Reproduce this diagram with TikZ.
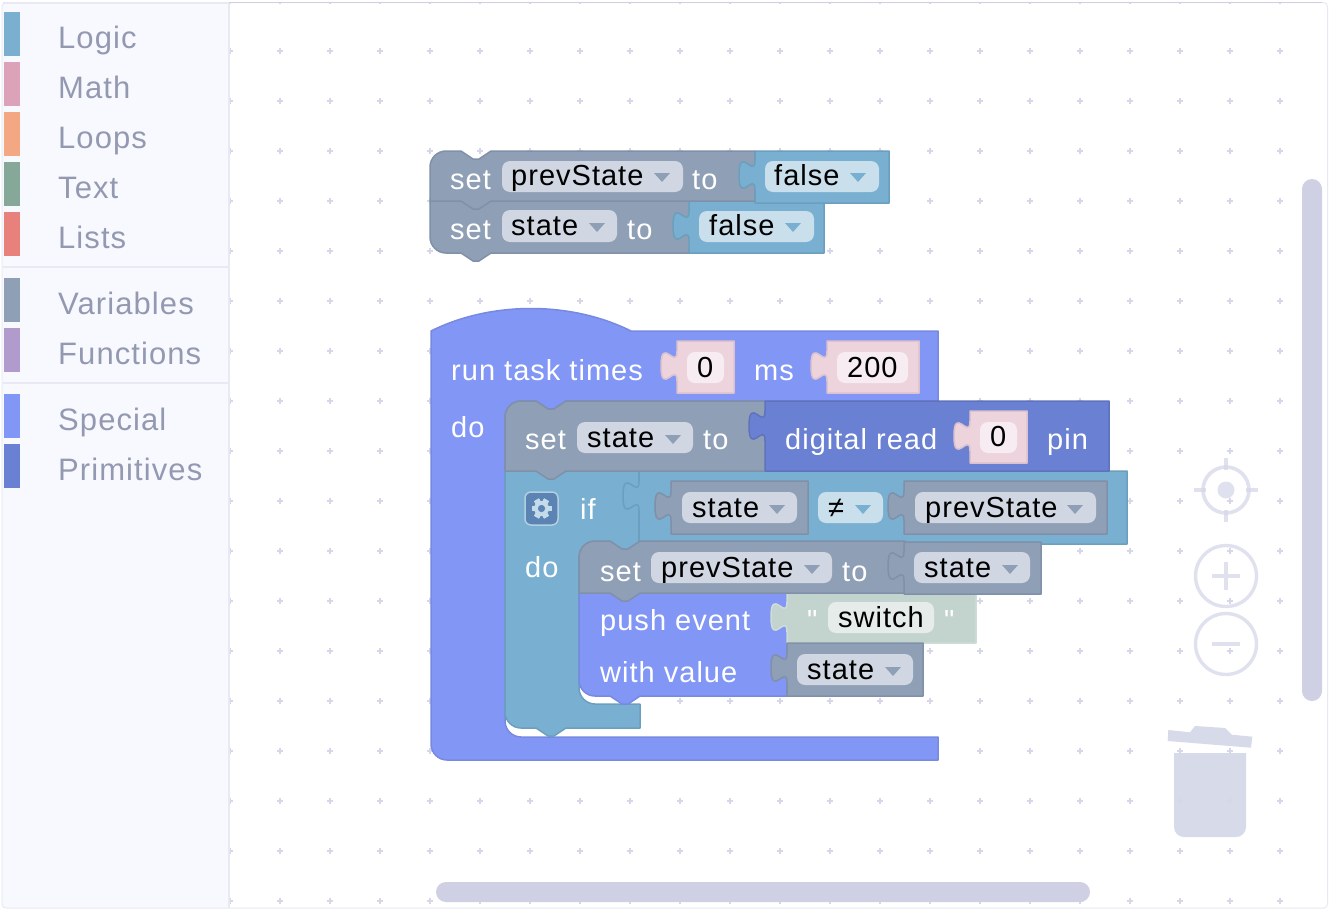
\documentclass[tikz,border=0pt]{standalone}
\usepackage{fontspec}
\setmainfont{Liberation Sans}[LetterSpace=3.5]
\newfontfamily\plainq{Liberation Sans}
\definecolor{cvar}{HTML}{8F9FB5}\definecolor{cvarS}{HTML}{7F90A8}\definecolor{cvarF}{HTML}{D0D7E2}
\definecolor{clog}{HTML}{79AFD0}\definecolor{clogS}{HTML}{6A9FBE}\definecolor{clogF}{HTML}{C9E0EC}
\definecolor{cspe}{HTML}{8196F5}\definecolor{cspeS}{HTML}{7789E0}
\definecolor{cpri}{HTML}{6A80D2}\definecolor{cpriS}{HTML}{5F72BC}
\definecolor{cmat}{HTML}{EDD3DC}\definecolor{cmatS}{HTML}{DCC2CE}\definecolor{cmatF}{HTML}{F6ECF1}
\definecolor{ctxt}{HTML}{C3D3CD}\definecolor{ctxtS}{HTML}{CFDDD8}\definecolor{ctxtF}{HTML}{E5ECEA}
\definecolor{cside}{HTML}{F8F9FE}\definecolor{cline}{HTML}{E8E9F3}\definecolor{clab}{HTML}{9499B2}
\definecolor{cbar}{HTML}{CFD0E3}\definecolor{cicon}{HTML}{D3D7E8}\definecolor{cdot}{HTML}{D6D7E8}
\definecolor{sLogic}{HTML}{7AAFD0}\definecolor{sMath}{HTML}{DCA2B8}\definecolor{sLoops}{HTML}{F3A883}
\definecolor{sText}{HTML}{85A898}\definecolor{sLists}{HTML}{E8807C}\definecolor{sVars}{HTML}{8F9FB5}
\definecolor{sFuncs}{HTML}{B09BCC}\definecolor{sSpec}{HTML}{8196F5}\definecolor{sPrim}{HTML}{6A80D2}
\definecolor{gearbg}{HTML}{5B84B4}\definecolor{gearfg}{HTML}{C4DBE9}\definecolor{gearln}{HTML}{B0D0E0}
\newcount\tc
\def\tabd#1#2{-- (#1,#2) .. controls (#1,#2+20) and (#1-16,#2-16) .. (#1-16,#2+15) .. controls (#1-16,#2+46) and (#1,#2+10) .. (#1,#2+30)}
\def\notchl#1#2{-- (#1,#2) -- (#1+12,#2+8) -- (#1+18,#2+8) -- (#1+30,#2)}
\def\notchr#1#2{-- (#1+30,#2) -- (#1+18,#2+8) -- (#1+12,#2+8) -- (#1,#2)}
\def\cor#1#2#3#4#5#6{-- (#1,#2) .. controls (#1*.45+#3*.55,#2*.45+#4*.55) and (#5*.45+#3*.55,#6*.45+#4*.55) .. (#5,#6)}
\def\W#1#2#3{\global\advance\tc by 1 \node[wlabel] (t\the\tc) at (#1,#2) {#3};}
\def\K#1#2#3{\global\advance\tc by 1 \node[klabel] (t\the\tc) at (#1,#2) {#3};}
\def\L#1#2#3{\global\advance\tc by 1 \node[slabel] (t\the\tc) at (#1,#2) {#3};}
\def\field#1#2#3#4#5{\fill[#5,rounded corners=8pt] (#1,#2) rectangle (#3,#4);}
\def\tri#1#2#3{\fill[#3] (#1,#2) -- (#1+16,#2) -- (#1+8,#2+9) -- cycle;}
\def\val#1#2#3#4#5#6#7{\draw[fill=#5,draw=#6,blockline] (#1,#2) \tabd{#1}{#7} -- (#1,#4) -- (#3,#4) -- (#3,#2) -- cycle;}
\def\swatch#1#2{\fill[#2] (4,#1) rectangle (20,#1+44);}
\tikzset{
 wlabel/.style={anchor=base west,inner sep=0pt,yshift=-.7pt,text=white,font=\fontsize{29}{31}\selectfont},
 klabel/.style={anchor=base west,inner sep=0pt,text=black,font=\fontsize{29}{31}\selectfont},
 slabel/.style={anchor=base west,inner sep=0pt,yshift=-.7pt,text=clab,font=\fontsize{31}{33}\selectfont},
 blockline/.style={line width=1.5pt,line join=round}
}
\begin{document}
\begin{tikzpicture}[x=1pt,y=-1pt]
\useasboundingbox (0,0) rectangle (1330,910);
\fill[white] (0,0) rectangle (1330,910);
% grid
\begin{scope}
\clip (229,3) rectangle (1327,908);
\foreach \gx in {230,280,...,1280}
 \foreach \gy in {0.7,50.7,100.7,150.7,200.7,250.7,300.7,350.7,400.7,450.7,500.7,550.7,600.7,650.7,700.7,750.7,800.7,850.7,900.7}{
  \draw[cdot,line width=1.6pt] (\gx-3,\gy) -- (\gx+3,\gy) (\gx,\gy-3) -- (\gx,\gy+3);
 }
\end{scope}
% scrollbars
\fill[cbar,rounded corners=10pt] (1302,179) rectangle (1322,701);
\fill[cbar,rounded corners=10pt] (436,882) rectangle (1090,902);
% controls
\begin{scope}[opacity=.72]
\draw[cicon,line width=3.6pt] (1226,490) circle[radius=23pt];
\fill[cicon] (1226,490) circle[radius=8.5pt];
\draw[cicon,line width=3.6pt] (1226,458) -- (1226,470) (1226,510) -- (1226,522) (1194,490) -- (1206,490) (1246,490) -- (1258,490);
\draw[cicon,line width=3.4pt] (1226,576) circle[radius=30.5pt];
\draw[cicon,line width=3.6pt] (1212,576) -- (1240,576) (1226,562) -- (1226,590);
\draw[cicon,line width=3.4pt] (1226,644) circle[radius=30.5pt];
\draw[cicon,line width=3.6pt] (1212,644) -- (1240,644);
\end{scope}
\begin{scope}[opacity=.92]
\fill[cicon] (1168.3,730) -- (1190,732.3) -- (1195,726) -- (1225,728) -- (1231.7,734.7) -- (1252.3,736.7) -- (1251,747.7) -- (1167.7,741) -- cycle;
\fill[cicon] (1174,753) -- (1246,753) \cor{1246}{827}{1246}{837}{1236}{837} \cor{1184}{837}{1174}{837}{1174}{827} -- cycle;
\end{scope}
% sidebar
\fill[cside] (3,3) rectangle (228,908);
\draw[cline,line width=2pt] (228.5,3) -- (228.5,908);
\draw[cline,line width=2pt] (3,3) -- (228,3);
\draw[cline,line width=2pt] (3,267) -- (228,267) (3,383) -- (228,383);
\swatch{12}{sLogic}\swatch{62}{sMath}\swatch{112}{sLoops}\swatch{162}{sText}\swatch{212}{sLists}
\swatch{278}{sVars}\swatch{328}{sFuncs}\swatch{394}{sSpec}\swatch{444}{sPrim}
\L{58}{48}{Logic}\L{58}{98}{Math}\L{58}{148}{Loops}\L{58}{198}{Text}\L{58}{248}{Lists}
\L{58}{313.5}{Variables}\L{58}{363.5}{Functions}\L{58}{429.5}{Special}\L{58}{479.5}{Primitives}
% frame
\draw[cline,line width=1pt,rounded corners=4pt] (2,2.5) rectangle (1327.5,908);
\draw[cbar,line width=.8pt] (229,2.5) -- (1322,2.5);
% --- first stack: set state
\draw[fill=cvar,draw=cvarS,blockline] (430,201) -- (690,201) -- (690,253) \notchr{461}{253} \cor{446}{253}{430}{253}{430}{237} -- cycle;
\val{689}{201}{824}{253}{clog}{clogS}{211}
\field{699}{211}{814}{242}{clogF}
\K{709}{235}{false}\tri{785}{223}{clog}
\W{450}{239}{set}\field{502}{210}{617}{242}{cvarF}\K{511}{235}{state}\tri{589}{223}{cvar}\W{627}{239}{to}
% set prevState
\draw[fill=cvar,draw=cvarS,blockline] (430,167) \cor{430}{167}{430}{151}{446}{151} \notchl{461}{151} -- (755,151) -- (755,201) \notchr{461}{201} -- (430,201) -- cycle;
\val{755}{151}{889}{203}{clog}{clogS}{160}
\field{765}{161}{879}{192}{clogF}
\K{774}{185}{false}\tri{850}{173}{clog}
\W{450}{189}{set}\field{502}{161}{683}{192}{cvarF}\K{511}{185}{prevState}\tri{654}{173}{cvar}\W{692}{189}{to}
% --- run task
\draw[fill=cspe,draw=cspeS,blockline] (431,331) .. controls (491,301) and (571,301) .. (631,331) -- (938,331) -- (938,401) \notchr{536}{401} -- (521,401) \cor{521}{401}{505}{401}{505}{417} \cor{505}{721}{505}{737}{521}{737} -- (938,737) -- (938,760) \cor{447}{760}{431}{760}{431}{744} -- cycle;
\W{451}{379.5}{run task times}\W{754}{379.5}{ms}\W{451}{436.5}{do}
\val{677}{341}{734}{393}{cmat}{cmatS}{351}
\field{687}{352}{724}{383}{cmatF}
\K{697}{377}{0}
\val{827}{341}{919}{393}{cmat}{cmatS}{351}
\field{837}{352}{908}{383}{cmatF}
\K{847}{377}{200}
% if block
\draw[fill=clog,draw=clogS,blockline] (505,471) -- (639,471) -- (639,543) \notchr{610}{543} -- (595,543) \cor{595}{543}{579}{543}{579}{559} \cor{579}{688}{579}{704}{595}{704} -- (640,704) -- (640,728) \notchr{536}{728} \cor{521}{728}{505}{728}{505}{712} -- cycle;
\W{580}{519}{if}\W{525}{576.5}{do}
\draw[fill=gearbg,draw=gearln,line width=1.5pt,rounded corners=6pt] (525,492) rectangle (558,525);
\begin{scope}[shift={(541.5,508.5)}]
\foreach \ang in {30,90,150,210,270,330}{\fill[gearfg,rotate=\ang] (-2.8,-10) rectangle (2.8,10);}
\fill[gearfg] (0,0) circle[radius=7.5pt];
\fill[gearbg] (0,0) circle[radius=3.6pt];
\end{scope}
% comparison
\val{639}{471}{1127}{544}{clog}{clogS}{481}
\val{671}{481}{808}{534}{cvar}{cvarS}{491}
\field{682}{492}{797}{523}{cvarF}\K{692}{517}{state}\tri{769}{505}{cvar}
\field{818}{492}{883}{523}{clogF}\K{828}{517}{≠}\tri{855}{505}{clog}
\val{904}{481}{1107}{534}{cvar}{cvarS}{491}
\field{915}{492}{1096}{523}{cvarF}\K{925}{517}{prevState}\tri{1067}{505}{cvar}
% push event
\draw[fill=cspe,draw=cspeS,blockline] (579,593) -- (787,593) -- (787,696) \notchr{610}{696} \cor{595}{696}{579}{696}{579}{680} -- cycle;
\W{600}{630}{push event}\W{600}{682}{with value}
\val{787}{592}{976}{643}{ctxt}{ctxtS}{602}
\global\advance\tc by 1 \node[wlabel,font=\plainq\fontsize{29}{31}\selectfont,text=white] (t\the\tc) at (807,630) {"};
\global\advance\tc by 1 \node[wlabel,font=\plainq\fontsize{29}{31}\selectfont,text=white] (t\the\tc) at (944,630) {"};
\field{828}{602}{934}{633}{ctxtF}\K{838}{627}{switch}
\val{787}{643}{923}{696}{cvar}{cvarS}{653}
\field{797}{654}{913}{685}{cvarF}\K{807}{679}{state}\tri{885}{667}{cvar}
% set prevState (inner)
\draw[fill=cvar,draw=cvarS,blockline] (579,557) \cor{579}{557}{579}{541}{595}{541} \notchl{610}{541} -- (905,541) -- (905,593) \notchr{610}{593} -- (579,593) -- cycle;
\W{600}{581}{set}\field{651}{552}{832}{583}{cvarF}\K{661}{577}{prevState}\tri{804}{565}{cvar}\W{842}{581}{to}
\val{904}{542}{1041}{594}{cvar}{cvarS}{551}
\field{914}{552}{1030}{583}{cvarF}\K{924}{577}{state}\tri{1002}{565}{cvar}
% set state (top of do)
\draw[fill=cvar,draw=cvarS,blockline] (505,417) \cor{505}{417}{505}{401}{521}{401} \notchl{536}{401} -- (766,401) -- (766,471) \notchr{536}{471} -- (505,471) -- cycle;
\W{525}{449}{set}\field{577}{422}{693}{453}{cvarF}\K{587}{447}{state}\tri{665}{435}{cvar}\W{703}{449}{to}
% digital read
\val{765}{401}{1109}{471}{cpri}{cpriS}{411}
\W{785}{449}{digital read}\W{1047}{449}{pin}
\val{970}{411}{1027}{463}{cmat}{cmatS}{421}
\field{980}{422}{1017}{453}{cmatF}\K{990}{446}{0}
\end{tikzpicture}
\end{document}
